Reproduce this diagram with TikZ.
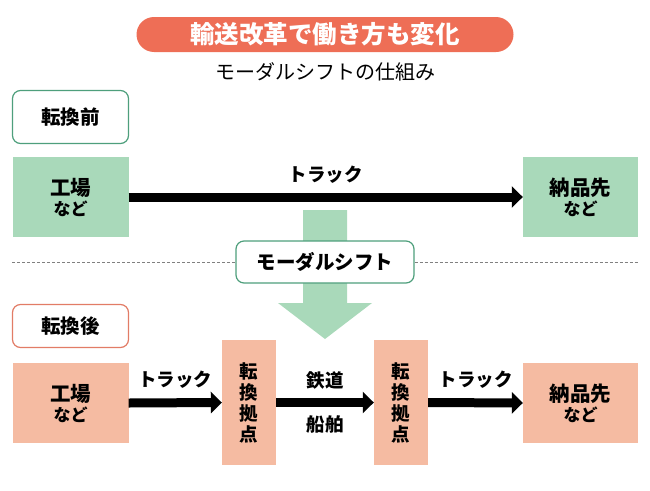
\documentclass[tikz,border=0pt]{standalone}
\usepackage{fontspec}
\setmainfont{Noto Sans CJK JP}
\usetikzlibrary{arrows.meta,calc}
\definecolor{MSCoral}{HTML}{EE6E56}
\definecolor{MSGreen}{HTML}{A9D9BA}
\definecolor{MSGreenLine}{HTML}{4E9F7C}
\definecolor{MSPink}{HTML}{F5BBA2}
\definecolor{MSPinkLine}{HTML}{E27C66}

\begin{document}
\begin{tikzpicture}[x=1pt,y=-1pt,
    tag/.style={draw,line width=1.2pt,rounded corners=8pt,fill=white,font=\bfseries\fontsize{19.5}{21}\selectfont},
    site/.style={minimum width=116pt,minimum height=80pt,align=center,font=\bfseries\fontsize{20.5}{21}\selectfont},
    hub/.style={fill=MSPink,minimum width=54pt,minimum height=125pt,align=center,font=\bfseries\fontsize{18.5}{21}\selectfont},
    haul/.style={line width=9pt,-{Triangle[length=11pt,width=21pt]}},
    lbl/.style={font=\bfseries\fontsize{18.5}{20}\selectfont}]
        \useasboundingbox (0,0) rectangle (650,490);
        % heading
        \node[fill=MSCoral,rounded corners=17.5pt,minimum width=377pt,minimum height=35pt,text=white,font=\bfseries\fontsize{24.5}{26}\selectfont] (title) at (325,34.5) {輸送改革で働き方も変化};
        \node[font=\fontsize{20}{22}\selectfont] (sub) at (325,72) {モーダルシフトの仕組み};
        % before
        \node[tag,draw=MSGreenLine,minimum width=116pt,minimum height=53pt] (pre) at (70.5,117) {転換前};
        \node[site,fill=MSGreen] (fa) at (70.5,197) {工場\\[-1pt]{\fontsize{17}{18}\selectfont など}};
        \node[site,fill=MSGreen,minimum width=115pt] (da) at (580.5,197) {納品先\\[-1pt]{\fontsize{17}{18}\selectfont など}};
        \draw[haul] (fa.east) -- node[lbl,above=6pt]{トラック} (da.west);
        % modal shift
        \fill[MSGreen] (303,210) -- (347,210) -- (347,303) -- (372,303) -- (325,339) -- (278,303) -- (303,303) -- cycle;
        \coordinate (dl) at (12,262);
        \coordinate (dr) at (638,262);
        \node[tag,draw=MSGreenLine,minimum width=178pt,minimum height=42pt] (ms) at (325,262) {モーダルシフト};
        \draw[gray,dash pattern=on 3pt off 2pt] (dl) -- (ms.west);
        \draw[gray,dash pattern=on 3pt off 2pt] (ms.east) -- (dr);
        % after
        \node[tag,draw=MSPinkLine,minimum width=116pt,minimum height=43pt] (post) at (70.5,326) {転換後};
        \node[site,fill=MSPink] (fb) at (70.5,403) {工場\\[-1pt]{\fontsize{17}{18}\selectfont など}};
        \node[hub] (h1) at (249,402.5) {転\\換\\拠\\点};
        \node[hub] (h2) at (401,402.5) {転\\換\\拠\\点};
        \node[site,fill=MSPink,minimum width=115pt] (db) at (580.5,403) {納品先\\[-1pt]{\fontsize{17}{18}\selectfont など}};
        \draw[haul] (fb.east) -- node[lbl,above=6pt]{トラック} (h1.west);
        \draw[haul] (h1.east) -- node[lbl,above=5pt]{鉄道} node[lbl,below=5pt]{船舶} (h2.west);
        \draw[haul] (h2.east) -- node[lbl,above=6pt]{トラック} (db.west);
\end{tikzpicture}
\end{document}
